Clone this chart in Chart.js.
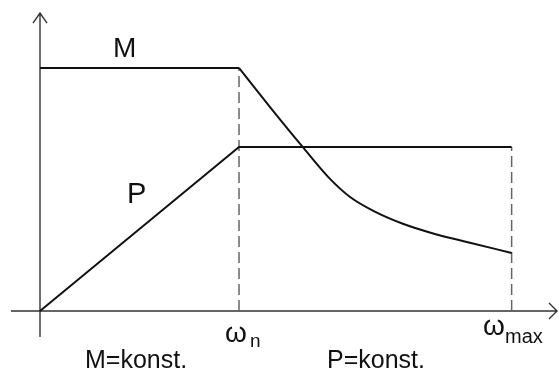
<!DOCTYPE html>
<html>
<head>
<meta charset="utf-8">
<script src="https://cdn.jsdelivr.net/npm/chart.js@4/dist/chart.umd.min.js"></script>
<style>
  html, body { margin: 0; padding: 0; background: #fff; }
  #wrap { width: 559px; height: 376px; }
</style>
</head>
<body>
<div id="wrap"><canvas id="c"></canvas></div>
<script>
// omega in units of omega_n, torque/power in units of M_n
const omegaN = 1;
const omegaMax = 2.37;

// M: constant up to omega_n, then falling (P = konst. region)
const mFlatW = [0, 1];
const mFlatV = [1, 1];
const mFallW = [1, 1.16, 1.32, 1.45, 1.56, 1.68, 1.82, 1.98, 2.15, 2.37];
const mFallV = [1, 0.835, 0.675, 0.55, 0.468, 0.41, 0.36, 0.318, 0.283, 0.239];

// P: rising up to omega_n, then constant
const pW = [0, 1, 2.37];
const pV = [0, 0.675, 0.675];

// text annotations: left edge / baseline in chart units
const labels = [
  { t: 'M', w: 0.367, v: 1.045, size: 28 },
  { t: 'P', w: 0.437, v: 0.444, size: 29 },
  { t: 'ω', w: 0.930, v: -0.1276, size: 28 },
  { t: 'n', w: 1.055, v: -0.148, size: 19 },
  { t: 'ω', w: 2.226, v: -0.0988, size: 28 },
  { t: 'max', w: 2.337, v: -0.1317, size: 20 },
  { t: 'M=konst.', w: 0.226, v: -0.2346, size: 25 },
  { t: 'P=konst.', w: 1.442, v: -0.2346, size: 25 }
];

const pts = (xs, ys) => xs.map((x, i) => ({ x: x, y: ys[i] }));

const axesPlugin = {
  id: 'axes',
  beforeDatasetsDraw(chart) {
    const { ctx, scales: { x, y } } = chart;
    ctx.save();
    ctx.strokeStyle = '#333';
    ctx.lineWidth = 1.4;
    ctx.beginPath();
    // x axis
    const x0 = x.getPixelForValue(-0.146), x1 = x.getPixelForValue(2.598), y0 = y.getPixelForValue(0);
    ctx.moveTo(x0, y0); ctx.lineTo(x1, y0);
    ctx.moveTo(x1 - 8, y0 - 8); ctx.lineTo(x1, y0); ctx.lineTo(x1 - 8, y0 + 8);
    // y axis
    const xa = x.getPixelForValue(0), ya = y.getPixelForValue(-0.107), yb = y.getPixelForValue(1.226);
    ctx.moveTo(xa, ya); ctx.lineTo(xa, yb);
    ctx.moveTo(xa - 7, yb + 10); ctx.lineTo(xa, yb); ctx.lineTo(xa + 7, yb + 10);
    ctx.stroke();
    ctx.restore();
  },
  afterDraw(chart) {
    const { ctx, scales: { x, y } } = chart;
    ctx.save();
    ctx.fillStyle = '#111';
    ctx.textAlign = 'left';
    ctx.textBaseline = 'alphabetic';
    labels.forEach(l => {
      ctx.font = l.size + 'px "Liberation Sans", Arial, sans-serif';
      ctx.fillText(l.t, x.getPixelForValue(l.w), y.getPixelForValue(l.v));
    });
    ctx.restore();
  }
};

const solid = { borderColor: '#111', borderWidth: 2, pointRadius: 0, showLine: true, fill: false };
const dashed = { borderColor: '#666', borderWidth: 1.5, borderDash: [11, 5], pointRadius: 0, showLine: true, fill: false };

new Chart(document.getElementById('c'), {
  type: 'scatter',
  data: {
    datasets: [
      Object.assign({ data: pts(mFlatW, mFlatV) }, solid),
      Object.assign({ data: pts(mFallW, mFallV), cubicInterpolationMode: 'monotone' }, solid),
      Object.assign({ data: pts(pW, pV) }, solid),
      Object.assign({ data: [{ x: omegaN, y: 0 }, { x: omegaN, y: 1 }] }, dashed),
      Object.assign({ data: [{ x: omegaMax, y: 0 }, { x: omegaMax, y: pV[2] }] }, dashed)
    ]
  },
  options: {
    responsive: true,
    maintainAspectRatio: false,
    animation: false,
    layout: { padding: 0 },
    plugins: { legend: { display: false }, tooltip: { enabled: false } },
    scales: {
      x: { type: 'linear', min: -0.201, max: 2.608, display: false },
      y: { type: 'linear', min: -0.2675, max: 1.2798, display: false }
    }
  },
  plugins: [axesPlugin]
});
</script>
</body>
</html>
